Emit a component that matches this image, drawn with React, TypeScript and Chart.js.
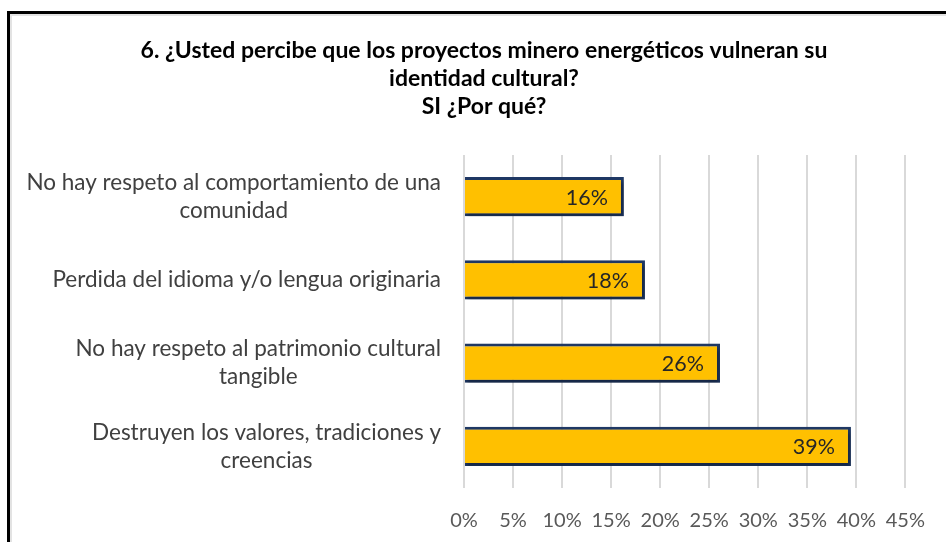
import React, { useEffect, useRef } from "react";
import { Chart, registerables } from "chart.js";

Chart.register(...registerables);

const titleLines = [
  "6. ¿Usted percibe que los proyectos minero energéticos vulneran su",
  "identidad cultural?",
  "SI ¿Por qué?",
];

const categories: string[][] = [
  ["No hay respeto al comportamiento de una", "comunidad"],
  ["Perdida del idioma y/o lengua originaria"],
  ["No hay respeto al patrimonio cultural", "tangible"],
  ["Destruyen los valores, tradiciones y", "creencias"],
];

const values = [16.3, 18.45, 26.1, 39.45];
const valueLabels = ["16%", "18%", "26%", "39%"];

const axisMin = 0;
const axisMax = 45;
const axisStep = 5;

const FONT = "Lato, 'Noto Sans', sans-serif";

export default function App() {
  const ref = useRef<HTMLCanvasElement | null>(null);

  useEffect(() => {
    if (!ref.current) return;

    const shadowAndLabels = {
      id: "shadowAndLabels",
      beforeDatasetsDraw(chart: any) {
        const ctx = chart.ctx;
        ctx.save();
        ctx.shadowColor = "rgba(0,0,0,0.35)";
        ctx.shadowBlur = 4;
        ctx.shadowOffsetX = 2;
        ctx.shadowOffsetY = 3;
      },
      afterDatasetsDraw(chart: any) {
        const ctx = chart.ctx;
        ctx.restore();
        const meta = chart.getDatasetMeta(0);
        ctx.save();
        ctx.font = `21.5px ${FONT}`;
        ctx.fillStyle = "#262626";
        ctx.textAlign = "right";
        ctx.textBaseline = "middle";
        meta.data.forEach((bar: any, i: number) => {
          ctx.fillText(valueLabels[i], bar.x - 16, bar.y + 1);
        });
        ctx.restore();
      },
    };

    const categoryLabels = {
      id: "categoryLabels",
      afterDraw(chart: any) {
        const ctx = chart.ctx;
        const yScale = chart.scales.y;
        ctx.save();
        ctx.font = `22.5px ${FONT}`;
        ctx.fillStyle = "#404040";
        ctx.textAlign = "center";
        ctx.textBaseline = "middle";
        const right = chart.chartArea.left - 23;
        const lh = 28;
        categories.forEach((lines, i) => {
          const y = yScale.getPixelForValue(i);
          const widest = Math.max(...lines.map((l) => ctx.measureText(l).width));
          const cx = right - widest / 2;
          lines.forEach((l, j) => {
            ctx.fillText(l, cx, y + (j - (lines.length - 1) / 2) * lh);
          });
        });
        ctx.restore();
      },
    };

    const chart = new Chart(ref.current, {
      type: "bar",
      data: {
        labels: categories.map((c) => c.join(" ")),
        datasets: [
          {
            data: values,
            backgroundColor: "#FFC000",
            borderColor: "#1F3864",
            borderWidth: 3,
            categoryPercentage: 1,
            barPercentage: 0.47,
          },
        ],
      },
      options: {
        indexAxis: "y",
        responsive: false,
        animation: false,
        layout: { padding: { left: 60, right: 38, top: 0, bottom: 0 } },
        plugins: {
          legend: { display: false },
          tooltip: { enabled: false },
          title: {
            display: true,
            text: titleLines,
            color: "#000000",
            font: { family: FONT, size: 23, weight: "bold", lineHeight: 28 / 23 },
            padding: { top: 37, bottom: 34 },
          },
        },
        scales: {
          x: {
            position: "bottom",
            min: axisMin,
            max: axisMax,
            border: { display: false },
            grid: { color: "#d9d9d9", lineWidth: 2, drawTicks: false },
            ticks: {
              stepSize: axisStep,
              color: "#595959",
              font: { family: FONT, size: 20 },
              padding: 21,
              callback: (v: any) => `${v}%`,
            },
            afterFit: (scale: any) => {
              scale.height = 54;
            },
          },
          y: {
            border: { display: false },
            grid: { display: false },
            ticks: { display: false },
            afterFit: (scale: any) => {
              scale.width = 404;
            },
          },
        },
      },
      plugins: [shadowAndLabels, categoryLabels],
    } as any);

    return () => chart.destroy();
  }, []);

  return (
    <div
      style={{
        position: "fixed",
        left: 0,
        top: 0,
        width: 946,
        height: 542,
        overflow: "hidden",
        background: "#ffffff",
      }}
    >
      <div
        style={{
          position: "absolute",
          left: 7,
          top: 11,
          width: 1000,
          height: 600,
          border: "3px solid #000000",
          boxShadow: "inset 2px 2px 0 #e3e3e3",
        }}
      />
      <canvas
        ref={ref}
        width={946}
        height={542}
        style={{ position: "absolute", left: 0, top: 0, width: 946, height: 542 }}
      />
    </div>
  );
}
